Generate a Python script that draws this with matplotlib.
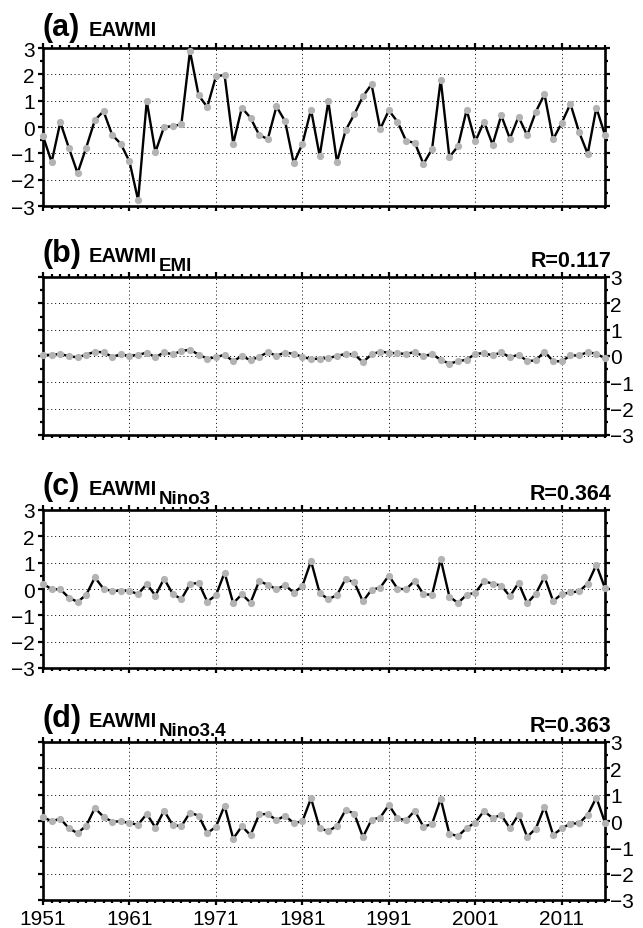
import numpy as np
import matplotlib
matplotlib.use("Agg")
import matplotlib.pyplot as plt
from matplotlib.ticker import MultipleLocator, FixedLocator

plt.rcParams['font.family'] = ['Liberation Sans', 'DejaVu Sans']

years = np.arange(1951, 2017)

# (a) EAWMI
eawmi = [-0.35, -1.33, 0.18, -0.80, -1.75, -0.78, 0.26, 0.60, -0.30, -0.64,
         -1.31, -2.78, 0.98, -0.95, 0.00, 0.03, 0.10, 2.88, 1.20, 0.76,
         1.92, 1.98, -0.63, 0.73, 0.35, -0.30, -0.46, 0.78, 0.22, -1.38,
         -0.64, 0.66, -1.10, 0.97, -1.33, -0.13, 0.48, 1.16, 1.62, -0.08,
         0.63, 0.20, -0.53, -0.60, -1.40, -0.84, 1.80, -1.14, -0.73, 0.65,
         -0.55, 0.20, -0.67, 0.44, -0.44, 0.39, -0.32, 0.58, 1.24, -0.47,
         0.16, 0.88, -0.19, -1.02, 0.73, -0.31]

# (b) EAWMI_EMI
eawmi_emi = [0.04, 0.04, 0.08, -0.01, -0.05, 0.05, 0.16, 0.14, -0.03, 0.06,
             0.01, 0.04, 0.13, -0.05, 0.14, 0.06, 0.19, 0.24, 0.05, -0.10,
             -0.05, 0.05, -0.20, 0.00, -0.16, -0.03, 0.14, 0.01, 0.13, 0.08,
             -0.03, -0.12, -0.10, -0.08, 0.00, 0.08, 0.06, -0.23, 0.06, 0.17,
             0.12, 0.10, 0.08, 0.15, -0.01, 0.08, -0.15, -0.29, -0.20, -0.14,
             0.08, 0.11, 0.02, 0.14, -0.05, 0.05, -0.19, -0.17, 0.17, -0.20,
             -0.20, 0.02, 0.02, 0.15, 0.08, -0.08]

# (c) EAWMI_Nino3
eawmi_nino3 = [0.20, -0.01, -0.01, -0.33, -0.49, -0.22, 0.44, 0.01, -0.08, -0.06,
               -0.08, -0.19, 0.19, -0.25, 0.39, -0.18, -0.39, 0.19, 0.23, -0.48,
               -0.24, 0.62, -0.54, -0.20, -0.52, 0.30, 0.16, -0.01, 0.15, -0.14,
               0.11, 1.06, -0.15, -0.39, -0.23, 0.38, 0.25, -0.47, -0.03, 0.05,
               0.51, 0.01, -0.01, 0.32, -0.20, -0.22, 1.13, -0.29, -0.53, -0.22,
               -0.14, 0.30, 0.20, 0.13, -0.28, 0.23, -0.54, -0.18, 0.46, -0.46,
               -0.19, -0.13, -0.09, 0.20, 0.92, 0.03]

# (d) EAWMI_Nino3.4
eawmi_nino34 = [0.15, -0.01, 0.09, -0.28, -0.46, -0.18, 0.49, 0.16, -0.03, -0.01,
                -0.08, -0.14, 0.27, -0.25, 0.39, -0.15, -0.20, 0.32, 0.20, -0.46,
                -0.22, 0.58, -0.67, -0.20, -0.54, 0.25, 0.27, 0.03, 0.20, -0.08,
                -0.01, 0.86, -0.27, -0.39, -0.18, 0.42, 0.28, -0.61, 0.05, 0.13,
                0.61, 0.10, 0.03, 0.39, -0.22, -0.11, 0.84, -0.49, -0.57, -0.27,
                -0.06, 0.38, 0.11, 0.23, -0.28, 0.24, -0.60, -0.29, 0.54, -0.53,
                -0.28, -0.10, -0.09, 0.24, 0.89, -0.06]

panels = [
    ('(a)', '', eawmi, None, 'left'),
    ('(b)', 'EMI', eawmi_emi, 'R=0.117', 'right'),
    ('(c)', 'Nino3', eawmi_nino3, 'R=0.364', 'left'),
    ('(d)', 'Nino3.4', eawmi_nino34, 'R=0.363', 'right'),
]

fig = plt.figure(figsize=(6.43, 9.29), dpi=100)
W, H = 643, 929
left, right = 43, 605
tops = [49, 278, 511, 743]
ax_h = 158

for i, (tag, sub, vals, rtext, side) in enumerate(panels):
    top = tops[i]
    ax = fig.add_axes([left / W, 1 - (top + ax_h) / H, (right - left) / W, ax_h / H])
    ax.plot(years, vals, color='black', lw=1.7, zorder=3)
    ax.plot(years, vals, 'o', color='#b3b3b3', ms=5.2, mec='none', zorder=4, clip_on=False)

    ax.set_xlim(1951, 2016)
    ax.set_ylim(-3, 3)
    ax.xaxis.set_major_locator(FixedLocator(np.arange(1951, 2017, 10)))
    ax.xaxis.set_minor_locator(MultipleLocator(1))
    ax.yaxis.set_major_locator(MultipleLocator(1))
    ax.yaxis.set_minor_locator(MultipleLocator(0.5))

    for s in ax.spines.values():
        s.set_linewidth(1.9)

    ax.tick_params(which='both', direction='out', top=True, bottom=True,
                   left=True, right=True, width=1.6, labelsize=15)
    ax.tick_params(which='major', length=3.5)
    ax.tick_params(which='minor', length=2.2)
    ax.tick_params(axis='y', labelleft=(side == 'left'), labelright=(side == 'right'),
                   pad=(2.5 if side == 'left' else 0.3))
    ax.tick_params(axis='x', labelbottom=(i == 3), pad=3)

    ax.grid(True, which='major', color='black', linestyle=(0, (1, 3)), lw=0.7)
    ax.set_axisbelow(True)

    base = 13 if i == 0 else 16
    ax.text(0.0, 1 + base / ax_h, tag, transform=ax.transAxes, fontsize=22,
            fontweight='bold', ha='left', va='baseline')
    t2 = ax.text(0.082, 1 + base / ax_h, 'EAWMI', transform=ax.transAxes,
                 fontsize=14.5, fontweight='bold', ha='left', va='baseline')
    if sub:
        ax.annotate(sub, xy=(1, 1 + 6.5 / ax_h), xycoords=(t2, 'axes fraction'),
                    xytext=(1, 0), textcoords='offset points', fontsize=13.5,
                    fontweight='bold', ha='left', va='baseline')
    if rtext:
        ax.text(1.012, 1 + 11 / ax_h, rtext, transform=ax.transAxes, fontsize=15.5,
                fontweight='bold', ha='right', va='baseline')

fig.savefig('out.png', dpi=100)
